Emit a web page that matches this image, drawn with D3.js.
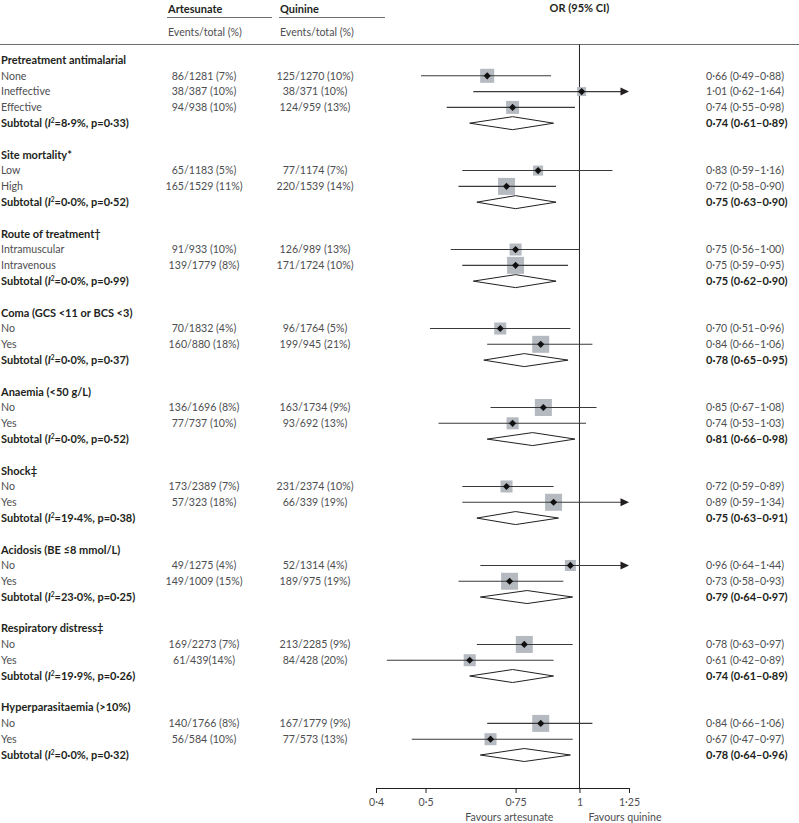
<!DOCTYPE html>
<html>
<head>
<meta charset="utf-8">
<script src="https://cdn.jsdelivr.net/npm/d3@7"></script>
<style>
html,body{margin:0;padding:0;background:#fff;}
svg{display:block;font-family:Lato,"Open Sans",sans-serif;}
</style>
</head>
<body>
<svg id="chart" width="799" height="823"></svg>
<script>
// ---------------- DATA ----------------
const groupNames = ["Pretreatment antimalarial","Site mortality*","Route of treatment\u2020","Coma (GCS <11 or BCS <3)","Anaemia (<50 g/L)","Shock\u2021","Acidosis (BE \u22648 mmol/L)","Respiratory distress\u2021","Hyperparasitaemia (>10%)"];
const subtotalI2 = ["8\u00b79","0\u00b70","0\u00b70","0\u00b70","0\u00b70","19\u00b74","23\u00b70","19\u00b79","0\u00b70"];
const subtotalP  = ["0\u00b733","0\u00b752","0\u00b799","0\u00b737","0\u00b752","0\u00b738","0\u00b725","0\u00b726","0\u00b732"];
const subtotalOR = [0.74,0.75,0.75,0.78,0.81,0.75,0.79,0.74,0.78];
const subtotalLo = [0.61,0.63,0.62,0.65,0.66,0.63,0.64,0.61,0.64];
const subtotalHi = [0.89,0.90,0.90,0.95,0.98,0.91,0.97,0.89,0.96];

const subLabels = ["None","Ineffective","Effective","Low","High","Intramuscular","Intravenous","No","Yes","No","Yes","No","Yes","No","Yes","No","Yes","No","Yes"];
const subGroup  = [0,0,0,1,1,2,2,3,3,4,4,5,5,6,6,7,7,8,8];
const artesunateText = ["86/1281 (7%)","38/387 (10%)","94/938 (10%)","65/1183 (5%)","165/1529 (11%)","91/933 (10%)","139/1779 (8%)","70/1832 (4%)","160/880 (18%)","136/1696 (8%)","77/737 (10%)","173/2389 (7%)","57/323 (18%)","49/1275 (4%)","149/1009 (15%)","169/2273 (7%)","61/439(14%)","140/1766 (8%)","56/584 (10%)"];
const quinineText = ["125/1270 (10%)","38/371 (10%)","124/959 (13%)","77/1174 (7%)","220/1539 (14%)","126/989 (13%)","171/1724 (10%)","96/1764 (5%)","199/945 (21%)","163/1734 (9%)","93/692 (13%)","231/2374 (10%)","66/339 (19%)","52/1314 (4%)","189/975 (19%)","213/2285 (9%)","84/428 (20%)","167/1779 (9%)","77/573 (13%)"];
const subOR = [0.66,1.01,0.74,0.83,0.72,0.75,0.75,0.70,0.84,0.85,0.74,0.72,0.89,0.96,0.73,0.78,0.61,0.84,0.67];
const subLo = [0.49,0.62,0.55,0.59,0.58,0.56,0.59,0.51,0.66,0.67,0.53,0.59,0.59,0.64,0.58,0.63,0.42,0.66,0.47];
const subHi = [0.88,1.64,0.98,1.16,0.90,1.00,0.95,0.96,1.06,1.08,1.03,0.89,1.34,1.44,0.93,0.97,0.89,1.06,0.97];
const subWeight = [0.68,0.28,0.58,0.35,1.00,0.50,1.00,0.50,1.00,1.00,0.50,0.50,1.00,0.42,1.00,1.00,0.50,1.00,0.50];

const tickValues = [0.4,0.5,0.75,1,1.25];
const axisDomain = [0.4,1.25];

// ---------------- HELPERS ----------------
const fmt = v => v.toFixed(2).replace(".", "\u00b7");
const ciText = (o,l,h) => `${fmt(o)} (${fmt(l)}\u2013${fmt(h)})`;

// Build row list
const rows = [];
groupNames.forEach((g, gi) => {
  if (gi > 0) rows.push({type:"blank"});
  rows.push({type:"header", label:g});
  subGroup.forEach((sg, i) => {
    if (sg === gi) rows.push({type:"sub", label:subLabels[i], art:artesunateText[i], qui:quinineText[i], or:subOR[i], lo:subLo[i], hi:subHi[i], w:subWeight[i]});
  });
  rows.push({type:"subtotal", i2:subtotalI2[gi], p:subtotalP[gi], or:subtotalOR[gi], lo:subtotalLo[gi], hi:subtotalHi[gi]});
});

// ---------------- LAYOUT ----------------
const svg = d3.select("#chart");
const FS = 10.6, FSB = 11;
const greyText = "#4d4e50", darkText = "#231f20";
const y = d3.scaleLinear().domain([0, rows.length - 1]).range([60, 755]);
const x = d3.scaleLog().domain(axisDomain).range([376, 629]);
const boxSize = d3.scaleSqrt().domain([0,1]).range([0,17]);
const axisY = 788;

// header
const hdr = svg.append("g").attr("font-size", FS);
hdr.append("text").attr("x",168).attr("y",9).attr("dy","0.35em").attr("font-size",FSB).attr("font-weight","bold").attr("fill",darkText).text("Artesunate");
hdr.append("text").attr("x",280).attr("y",9).attr("dy","0.35em").attr("font-size",FSB).attr("font-weight","bold").attr("fill",darkText).text("Quinine");
hdr.append("text").attr("x",x(1)).attr("y",8.5).attr("dy","0.35em").attr("font-size",FSB).attr("text-anchor","middle").attr("font-weight","bold").attr("fill",darkText).text("OR (95% CI)");
hdr.append("text").attr("x",168).attr("y",32).attr("dy","0.35em").attr("fill",greyText).text("Events/total (%)");
hdr.append("text").attr("x",280).attr("y",32).attr("dy","0.35em").attr("fill",greyText).text("Events/total (%)");
hdr.append("line").attr("x1",167).attr("x2",272).attr("y1",17.5).attr("y2",17.5).attr("stroke","#6d6e71").attr("stroke-width",1.2);
hdr.append("line").attr("x1",279).attr("x2",385).attr("y1",17.5).attr("y2",17.5).attr("stroke","#6d6e71").attr("stroke-width",1.2);
hdr.append("line").attr("x1",0).attr("x2",799).attr("y1",44.5).attr("y2",44.5).attr("stroke","#6d6e71").attr("stroke-width",1.2);

// null line
svg.append("line").attr("x1",x(1)).attr("x2",x(1)).attr("y1",44.5).attr("y2",axisY)
  .attr("stroke","#231f20").attr("stroke-width",1);

// rows
const g = svg.append("g").attr("font-size", FS);
rows.forEach((r, i) => {
  const yy = y(i);
  if (r.type === "header") {
    g.append("text").attr("x",1).attr("y",yy).attr("dy","0.35em").attr("font-size",FSB).attr("font-weight","bold").attr("fill",darkText).text(r.label);
  } else if (r.type === "sub") {
    g.append("text").attr("x",1).attr("y",yy).attr("dy","0.35em").attr("fill",greyText).text(r.label);
    g.append("text").attr("x",204).attr("y",yy).attr("dy","0.35em").attr("text-anchor","middle").attr("fill",greyText).text(r.art);
    g.append("text").attr("x",315).attr("y",yy).attr("dy","0.35em").attr("text-anchor","middle").attr("fill",greyText).text(r.qui);
    g.append("text").attr("x",706).attr("y",yy).attr("dy","0.35em").attr("fill",greyText).text(ciText(r.or,r.lo,r.hi));
    // box
    const s = boxSize(r.w);
    g.append("rect").attr("x",x(r.or)-s/2).attr("y",yy-s/2).attr("width",s).attr("height",s).attr("fill","#b5bac1");
    // CI line
    const hiC = Math.min(r.hi, axisDomain[1]);
    const lineEnd = r.hi > axisDomain[1] ? x(hiC) - 8 : x(hiC);
    g.append("line").attr("x1",x(r.lo)).attr("x2",lineEnd).attr("y1",yy).attr("y2",yy).attr("stroke","#3a3a3a").attr("stroke-width",1.1);
    if (r.hi > axisDomain[1]) {
      const tx = x(axisDomain[1]);
      g.append("path").attr("d",`M${tx},${yy} L${tx-8.5},${yy-4} L${tx-8.5},${yy+4} Z`).attr("fill","#231f20");
    }
    // point diamond
    const d = 3.6;
    const px = x(r.or);
    g.append("path").attr("d",`M${px-d},${yy} L${px},${yy-d} L${px+d},${yy} L${px},${yy+d} Z`).attr("fill","#111");
  } else if (r.type === "subtotal") {
    const t = g.append("text").attr("x",1).attr("y",yy).attr("dy","0.35em").attr("font-size",FSB).attr("font-weight","bold").attr("fill",darkText);
    t.append("tspan").text("Subtotal (");
    t.append("tspan").attr("font-style","italic").text("I");
    t.append("tspan").attr("font-size",FSB*0.6).attr("dy","-0.55em").text("2");
    t.append("tspan").attr("dy","0.33em").text(`=${r.i2}%, p=${r.p})`);
    g.append("text").attr("x",706).attr("y",yy).attr("dy","0.35em").attr("font-size",FSB).attr("font-weight","bold").attr("fill",darkText).text(ciText(r.or,r.lo,r.hi));
    const h = 6.5;
    g.append("path").attr("d",`M${x(r.lo)},${yy} L${x(r.or)},${yy-h} L${x(r.hi)},${yy} L${x(r.or)},${yy+h} Z`)
      .attr("fill","#fff").attr("stroke","#231f20").attr("stroke-width",1);
  }
});

// axis
const axis = d3.axisBottom(x).tickValues(tickValues).tickSize(5).tickSizeOuter(0)
  .tickFormat(d => String(d).replace(".", "\u00b7"));
const ax = svg.append("g").attr("transform",`translate(0,${axisY})`).call(axis);
ax.select(".domain").attr("stroke","#231f20").attr("stroke-width",1);
ax.selectAll(".tick line").attr("stroke","#231f20");
ax.selectAll(".tick text").attr("font-size",FS).attr("font-family","Lato,'Open Sans',sans-serif").attr("fill",greyText).attr("dy","0.95em");

svg.append("text").attr("x",x(1)-26).attr("y",817).attr("dy","0.35em").attr("text-anchor","end").attr("font-size",FS).attr("fill",greyText).text("Favours artesunate");
svg.append("text").attr("x",x(1)+9).attr("y",817).attr("dy","0.35em").attr("font-size",FS).attr("fill",greyText).text("Favours quinine");
</script>
</body>
</html>
